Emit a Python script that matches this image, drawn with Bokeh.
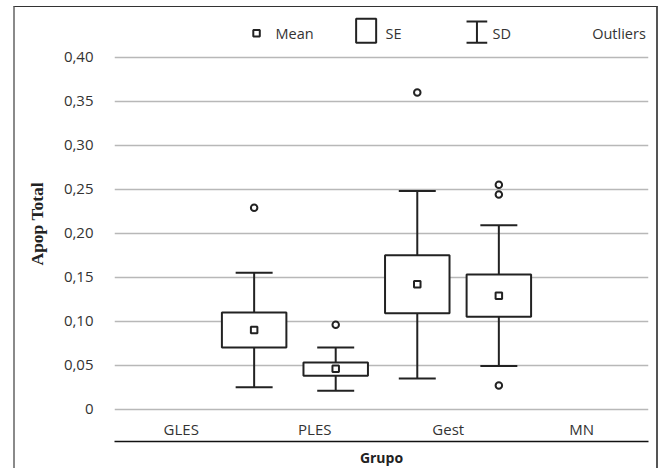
from bokeh.plotting import figure
from bokeh.models import FixedTicker, LinearAxis, Range1d, Grid, Title
from bokeh.core.properties import value
from bokeh.embed import file_html
from bokeh.resources import INLINE

# ---------------- data ----------------
groups = ["GLES", "PLES", "Gest", "MN"]
mean = [0.090, 0.046, 0.142, 0.129]
se_upper = [0.110, 0.053, 0.175, 0.153]
se_lower = [0.070, 0.038, 0.109, 0.105]
sd_upper = [0.155, 0.070, 0.248, 0.209]
sd_lower = [0.025, 0.021, 0.035, 0.049]
outlier_group = [0, 1, 2, 3, 3, 3]
outlier_value = [0.229, 0.096, 0.360, 0.255, 0.244, 0.027]
y_ticks = [0, 0.05, 0.1, 0.15, 0.2, 0.25, 0.3, 0.35, 0.4]
y_tick_labels = ["0", "0,05", "0,10", "0,15", "0,20", "0,25", "0,30", "0,35", "0,40"]
legend_labels = ["Mean", "SE", "SD", "Outliers"]

# ---------------- layout constants ----------------
BOX_START = 1.046
BOX_STEP = 0.611
BOX_W = 0.483
CAP_W = 0.277
INK = "#222222"
TXT = "#333333"
FONT = "Open Sans"

box_x = [BOX_START + i * BOX_STEP for i in range(len(groups))]
cap_l = [x - CAP_W / 2 for x in box_x]
cap_r = [x + CAP_W / 2 for x in box_x]
box_l = [x - BOX_W / 2 for x in box_x]
box_r = [x + BOX_W / 2 for x in box_x]
out_x = [box_x[g] for g in outlier_group]

p = figure(width=645, height=462,
           x_range=Range1d(0, len(groups)), y_range=Range1d(-0.0026, 0.4531),
           x_axis_type=None, y_axis_type=None,
           output_backend="svg", toolbar_location=None,
           min_border_left=99, min_border_right=12, min_border_top=3, min_border_bottom=58)
p.outline_line_color = None
p.background_fill_color = "white"
p.border_fill_color = "white"
p.styles = {"margin-left": "13px", "margin-top": "6px",
            "border-left": "2px solid #8a8a8a", "border-top": "1px solid #333",
            "border-right": "2px solid #555"}

yticker = FixedTicker(ticks=y_ticks)
yaxis = LinearAxis(ticker=yticker,
                   major_label_overrides=dict(zip(y_ticks, y_tick_labels)),
                   axis_line_color=None, major_tick_line_color=None,
                   minor_tick_line_color=None, major_tick_out=0, major_tick_in=0,
                   major_label_standoff=21,
                   major_label_text_font=FONT, major_label_text_font_size="15px",
                   major_label_text_color=TXT)
p.add_layout(yaxis, "left")
ytitle = Title(text="Apop Total", align="left", vertical_align="top", offset=146, standoff=23,
               text_font="Liberation Serif", text_font_style="bold",
               text_font_size="17.5px", text_color=INK)
p.add_layout(ytitle, "left")

xticks = [i + 0.5 for i in range(len(groups))]
xaxis = LinearAxis(ticker=FixedTicker(ticks=xticks),
                   major_label_overrides=dict(zip(xticks, groups)),
                   axis_line_color=None, major_tick_line_color=None,
                   minor_tick_line_color=None, major_tick_out=0, major_tick_in=0,
                   major_label_standoff=7,
                   major_label_text_font=FONT, major_label_text_font_size="15px",
                   major_label_text_color=TXT)
p.add_layout(xaxis, "below")

xaxis2 = LinearAxis(ticker=FixedTicker(ticks=[]),
                    axis_line_color="#111111", axis_line_width=1.5,
                    major_tick_line_color=None, minor_tick_line_color=None,
                    major_label_text_font_size="0px",
                    axis_label="Grupo", axis_label_standoff=6,
                    axis_label_text_font=FONT, axis_label_text_font_style="bold",
                    axis_label_text_font_size="14px", axis_label_text_color=INK)
p.add_layout(xaxis2, "below")

p.add_layout(Grid(dimension=1, ticker=yticker, grid_line_color="#b8b8b8", grid_line_width=1.6))

# whiskers (SD) and caps
p.segment(x0=box_x, y0=sd_lower, x1=box_x, y1=sd_upper, line_color=INK, line_width=2)
p.segment(x0=cap_l, y0=sd_upper, x1=cap_r, y1=sd_upper, line_color=INK, line_width=2)
p.segment(x0=cap_l, y0=sd_lower, x1=cap_r, y1=sd_lower, line_color=INK, line_width=2)
# SE boxes
p.quad(left=box_l, right=box_r, top=se_upper, bottom=se_lower,
       fill_color="white", line_color=INK, line_width=2)
# means
p.scatter(box_x, mean, marker="square", size=6.5, fill_color="white", line_color=INK, line_width=2)
# outliers
p.scatter(out_x, outlier_value, marker="circle", size=6.5, fill_color="white",
          line_color=INK, line_width=2)

# ---------------- legend (drawn above the 0,40 line) ----------------
LEG_Y = 0.4273
p.scatter([1.064], [LEG_Y], marker="square", size=6.5, fill_color="white", line_color=INK, line_width=2)
p.quad(left=[1.810], right=[1.960], top=[0.4436], bottom=[0.4164],
       fill_color="white", line_color=INK, line_width=2)
p.segment(x0=[2.715], y0=[0.4164], x1=[2.715], y1=[0.4406], line_color=INK, line_width=2)
p.segment(x0=[2.637, 2.637], y0=[0.4164, 0.4406], x1=[2.792, 2.792], y1=[0.4164, 0.4406],
          line_color=INK, line_width=2)
p.text(x=[1.206, 2.030, 2.831, 3.578], y=[LEG_Y] * 4, text=legend_labels,
       text_font=value(FONT), text_font_size="14.5px", text_baseline="middle",
       text_color=TXT)

open("out.html", "w").write(file_html(p, INLINE))
